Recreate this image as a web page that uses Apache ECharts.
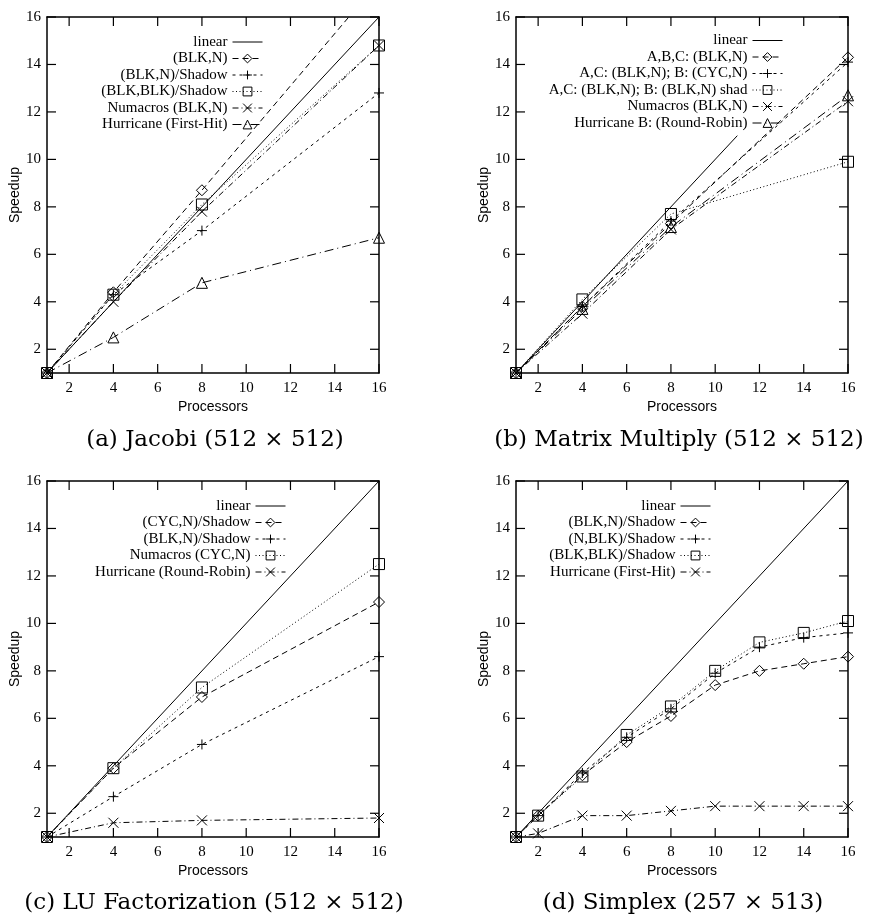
<!DOCTYPE html>
<html><head><meta charset="utf-8">
<script src="https://cdn.jsdelivr.net/npm/echarts@6/dist/echarts.min.js"></script>
<style>html,body{margin:0;padding:0;background:#fff}#c{width:871px;height:916px}</style>
</head><body><div id="c"></div><script>
// ---------- data ----------
const tickValues = [2, 4, 6, 8, 10, 12, 14, 16];
const linearX = [1, 16];
const linearY = [1, 16];
const mmLinearX = [1, 11];
const mmLinearY = [1, 11];

// (a) Jacobi
const procA = [1, 4, 8, 16];
const jacobiLabels = ['linear', '(BLK,N)', '(BLK,N)/Shadow', '(BLK,BLK)/Shadow', 'Numacros (BLK,N)', 'Hurricane (First-Hit)'];
const jacobiBlkN = [1, 4.4, 8.7, 17.5];
const jacobiBlkNShadow = [1, 4.3, 7.0, 12.8];
const jacobiBlkBlkShadow = [1, 4.3, 8.1, 14.8];
const jacobiNumacros = [1, 4.0, 7.8, 14.8];
const jacobiHurricane = [1, 2.5, 4.8, 6.7];

// (b) Matrix Multiply
const procB = [1, 4, 8, 16];
const mmLabels = ['linear', 'A,B,C: (BLK,N)', 'A,C: (BLK,N); B: (CYC,N)', 'A,C: (BLK,N); B: (BLK,N) shad', 'Numacros (BLK,N)', 'Hurricane B: (Round-Robin)'];
const mmAbc = [1, 3.8, 7.3, 14.3];
const mmAcCyc = [1, 3.8, 7.4, 14.1];
const mmAcShad = [1, 4.1, 7.7, 9.9];
const mmNumacros = [1, 3.5, 7.05, 12.45];
const mmHurricane = [1, 3.7, 7.15, 12.7];

// (c) LU Factorization
const procC = [1, 4, 8, 16];
const luLabels = ['linear', '(CYC,N)/Shadow', '(BLK,N)/Shadow', 'Numacros (CYC,N)', 'Hurricane (Round-Robin)'];
const luCycShadow = [1, 3.9, 6.9, 10.9];
const luBlkShadow = [1, 2.7, 4.9, 8.6];
const luNumacros = [1, 3.9, 7.3, 12.5];
const luHurricane = [1, 1.6, 1.7, 1.8];

// (d) Simplex
const procD = [1, 2, 4, 6, 8, 10, 12, 14, 16];
const sxLabels = ['linear', '(BLK,N)/Shadow', '(N,BLK)/Shadow', '(BLK,BLK)/Shadow', 'Hurricane (First-Hit)'];
const sxBlkN = [1, 1.9, 3.6, 5.0, 6.1, 7.4, 8.0, 8.3, 8.6];
const sxNBlk = [1, 1.9, 3.7, 5.2, 6.4, 7.9, 9.0, 9.4, 9.6];
const sxBlkBlk = [1, 1.9, 3.55, 5.3, 6.5, 8.0, 9.2, 9.6, 10.1];
const sxHurricane = [1, 1.15, 1.9, 1.9, 2.1, 2.3, 2.3, 2.3, 2.3];

const captions = ['(a) Jacobi (512 \u00d7 512)', '(b) Matrix Multiply (512 \u00d7 512)', '(c) LU Factorization (512 \u00d7 512)', '(d) Simplex (257 \u00d7 513)'];

// ---------- styles / layout ----------
const PLUS = 'path://M5,0L5,10M0,5L10,5';
const CROSS = 'path://M0,0L10,10M10,0L0,10';
const styles = [
  { symbol: 'diamond', size: 11, dash: [6, 4] },
  { symbol: PLUS, size: 10, dash: [3, 4] },
  { symbol: 'rect', size: 11, dash: [1, 2.5] },
  { symbol: CROSS, size: 10, dash: [6, 3, 1, 3] },
  { symbol: 'triangle', size: 11, dash: [9, 4, 1, 4] }
];

const panels = [
  { key: 'a', x: procA, labels: jacobiLabels, linX: linearX, linY: linearY,
    ys: [jacobiBlkN, jacobiBlkNShadow, jacobiBlkBlkShadow, jacobiNumacros, jacobiHurricane],
    grid: { left: 47, top: 17, width: 332, height: 356 }, legend: { right: 608, top: 34.5 }, cap: [215, 440] },
  { key: 'b', x: procB, labels: mmLabels, linX: mmLinearX, linY: mmLinearY,
    ys: [mmAbc, mmAcCyc, mmAcShad, mmNumacros, mmHurricane],
    grid: { left: 516, top: 17, width: 332, height: 356 }, legend: { right: 88, top: 33 }, cap: [679, 440] },
  { key: 'c', x: procC, labels: luLabels, linX: linearX, linY: linearY,
    ys: [luCycShadow, luBlkShadow, luNumacros, luHurricane],
    grid: { left: 47, top: 481, width: 332, height: 356 }, legend: { right: 585, top: 498.5 }, cap: [214, 903] },
  { key: 'd', x: procD, labels: sxLabels, linX: linearX, linY: linearY,
    ys: [sxBlkN, sxNBlk, sxBlkBlk, sxHurricane],
    grid: { left: 516, top: 481, width: 332, height: 356 }, legend: { right: 160, top: 498.5 }, cap: [683, 903] }
];

const zip = (xs, ys) => xs.map((x, i) => [x, ys[i]]);
const black = '#000';
const serif = 'Liberation Serif';
const sans = 'Liberation Sans';
const AX_MIN = 1, AX_MAX = 16, TICK_LEN = 9;

function makeAxis(gi, pos, extra) {
  const o = {
    type: 'value', gridIndex: gi, min: AX_MIN, max: AX_MAX, splitNumber: 7, position: pos,
    splitLine: { show: false },
    axisLine: { show: true, onZero: false, lineStyle: { color: black, width: 1.5 } },
    axisTick: { show: false },
    axisLabel: { show: false }
  };
  return Object.assign(o, extra || {});
}

// tick marks on all four sides, positioned through the axes' own scales
function renderTicks(params, api) {
  const v = api.value(0);
  const b = api.coord([v, AX_MIN]);
  const t = api.coord([v, AX_MAX]);
  const l = api.coord([AX_MIN, v]);
  const r = api.coord([AX_MAX, v]);
  const st = { stroke: black, lineWidth: 1.2 };
  return {
    type: 'group', silent: true,
    children: [
      { type: 'line', shape: { x1: b[0], y1: b[1], x2: b[0], y2: b[1] - TICK_LEN }, style: st },
      { type: 'line', shape: { x1: t[0], y1: t[1], x2: t[0], y2: t[1] + TICK_LEN }, style: st },
      { type: 'line', shape: { x1: l[0], y1: l[1], x2: l[0] + TICK_LEN, y2: l[1] }, style: st },
      { type: 'line', shape: { x1: r[0], y1: r[1], x2: r[0] - TICK_LEN, y2: r[1] }, style: st }
    ]
  };
}

const grids = [], xAxes = [], yAxes = [], series = [], legends = [], graphics = [];
const N = panels.length;

panels.forEach((p, i) => {
  grids.push(Object.assign({}, p.grid));
  xAxes.push(makeAxis(i, 'bottom', {
    axisLabel: { customValues: tickValues.slice(), color: black, fontFamily: serif, fontSize: 15, margin: 8 },
    name: 'Processors', nameLocation: 'middle', nameGap: 27,
    nameTextStyle: { color: black, fontFamily: sans, fontSize: 14 }
  }));
  yAxes.push(makeAxis(i, 'left', {
    axisLabel: { customValues: tickValues.slice(), color: black, fontFamily: serif, fontSize: 15, margin: 6 },
    name: 'Speedup', nameLocation: 'middle', nameGap: i % 2 === 0 ? 25 : 23, nameRotate: 90,
    nameTextStyle: { color: black, fontFamily: sans, fontSize: 14 }
  }));
});
panels.forEach((p, i) => {
  grids.push(Object.assign({}, p.grid));
  xAxes.push(makeAxis(N + i, 'top'));
  yAxes.push(makeAxis(N + i, 'right'));
});

panels.forEach((p, i) => {
  series.push({
    type: 'custom', xAxisIndex: i, yAxisIndex: i, silent: true, clip: false,
    data: tickValues.map(v => [v, v]), encode: { x: 0, y: 1 },
    renderItem: renderTicks, z: 5
  });
  const names = [];
  const linName = p.key + '|' + p.labels[0];
  names.push({ name: linName, itemStyle: { color: 'rgba(0,0,0,0)', borderWidth: 0, opacity: 0 } });
  series.push({
    type: 'line', name: linName, xAxisIndex: i, yAxisIndex: i,
    data: zip(p.linX, p.linY), symbol: 'none', clip: true,
    lineStyle: { color: black, width: 1, type: 'solid' },
    itemStyle: { color: black }, emphasis: { disabled: true }, silent: true
  });
  p.ys.forEach((ys, k) => {
    const st = styles[k];
    const nm = p.key + '|' + p.labels[k + 1];
    names.push({ name: nm });
    series.push({
      type: 'line', name: nm, xAxisIndex: i, yAxisIndex: i,
      data: zip(p.x, ys), symbol: st.symbol, symbolSize: st.size, showAllSymbol: true,
      clip: true,
      lineStyle: { color: black, width: 1, type: st.dash.slice() },
      itemStyle: { color: 'rgba(0,0,0,0)', borderColor: black, borderWidth: 1 },
      emphasis: { disabled: true }, silent: true
    });
  });
  legends.push({
    data: names, orient: 'vertical', right: p.legend.right, top: p.legend.top,
    align: 'right', padding: 0, itemGap: 1.5, itemWidth: 30, itemHeight: 11,
    selectedMode: false,
    itemStyle: { color: 'rgba(0,0,0,0)', borderColor: black, borderWidth: 1 },
    lineStyle: { width: 1 },
    textStyle: { color: black, fontFamily: serif, fontSize: 15, lineHeight: 15 },
    formatter: n => n.split('|')[1]
  });
  graphics.push({
    type: 'text', x: p.cap[0], y: p.cap[1],
    style: { text: captions[i], fill: black, font: '23px "DejaVu Serif"', textAlign: 'center', textVerticalAlign: 'middle' }
  });
});

const chart = echarts.init(document.getElementById('c'), null, { renderer: 'canvas' });
chart.setOption({
  animation: false,
  backgroundColor: '#fff',
  grid: grids, xAxis: xAxes, yAxis: yAxes, series: series, legend: legends,
  graphic: graphics
});
</script></body></html>
